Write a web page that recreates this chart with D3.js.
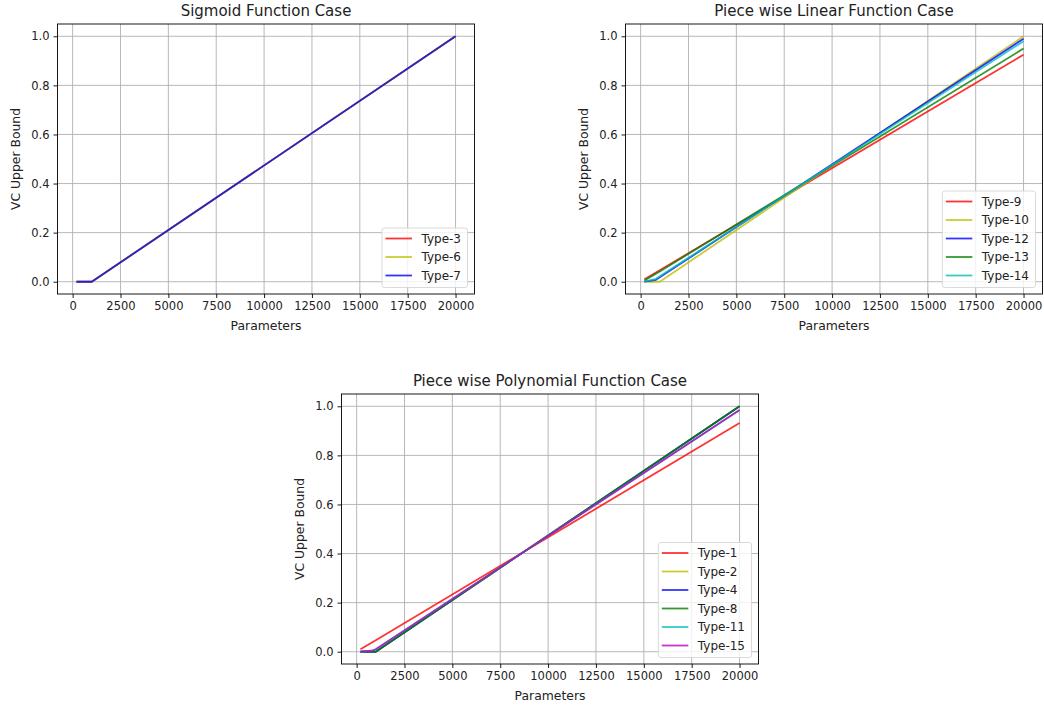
<!DOCTYPE html>
<html>
<head>
<meta charset="utf-8">
<script src="https://cdn.jsdelivr.net/npm/d3@7"></script>
<style>
  body { margin: 0; background: #fff; }
  svg { display: block; font-family: "DejaVu Sans", sans-serif; }
</style>
</head>
<body>
<div id="chart"></div>
<script>
// ---- data ----
const paramsX = [200, 800, 1000, 20000];

// Sigmoid function case
const sigType3 = [0, 0, 0, 1.0];
const sigType6 = [0, 0, 0, 1.0];
const sigType7 = [0, 0, 0, 1.0];

// Piece wise linear function case
const linType9  = [0.010, 0.038, 0.047, 0.925];
const linType10 = [0, 0, 0, 1.0];
const linType12 = [0, 0.008, 0.018, 0.990];
const linType13 = [0.005, 0.033, 0.042, 0.950];
const linType14 = [0, 0.012, 0.022, 0.980];

// Piece wise polynomial function case
const polyType1  = [0.010, 0.038, 0.047, 0.932];
const polyType2  = [0, 0, 0, 1.0];
const polyType4  = [0, 0, 0, 1.0];
const polyType8  = [0, 0, 0, 1.0];
const polyType11 = [0, 0.004, 0.010, 0.985];
const polyType15 = [0, 0.004, 0.010, 0.985];

const xTicks = [0, 2500, 5000, 7500, 10000, 12500, 15000, 17500, 20000];
const yTicks = [0.0, 0.2, 0.4, 0.6, 0.8, 1.0];

// matplotlib short colour codes
const mplColor = { r: "#ff0000", y: "#bfbf00", b: "#0000ff", g: "#008000", c: "#00bfbf", m: "#bf00bf" };

const panels = [
  { title: "Sigmoid Function Case", left: 57.5, top: 24,
    series: [["Type-3", sigType3, "r"], ["Type-6", sigType6, "y"], ["Type-7", sigType7, "b"]] },
  { title: "Piece wise Linear Function Case", left: 625.5, top: 24,
    series: [["Type-9", linType9, "r"], ["Type-10", linType10, "y"], ["Type-12", linType12, "b"],
             ["Type-13", linType13, "g"], ["Type-14", linType14, "c"]] },
  { title: "Piece wise Polynomial Function Case", left: 341.5, top: 394,
    series: [["Type-1", polyType1, "r"], ["Type-2", polyType2, "y"], ["Type-4", polyType4, "b"],
             ["Type-8", polyType8, "g"], ["Type-11", polyType11, "c"], ["Type-15", polyType15, "m"]] }
];

const W = 1044, H = 708;
const pw = 417, ph = 270;
const tickFs = 11.5, labelFs = 12.4, legFs = 12, titleFs = 15;
const ink = "#222";

const svg = d3.select("#chart").append("svg")
  .attr("width", W).attr("height", H);
svg.append("rect").attr("width", W).attr("height", H).attr("fill", "#fff");

// 5% padding on both sides like matplotlib autoscale
function padded(ext) {
  const m = (ext[1] - ext[0]) * 0.05;
  return [ext[0] - m, ext[1] + m];
}

function drawPanel(p) {
  const allY = p.series.flatMap(s => s[1]);
  const x = d3.scaleLinear().domain(padded(d3.extent(paramsX))).range([0, pw]);
  const y = d3.scaleLinear().domain(padded([Math.min(0, d3.min(allY)), d3.max(allY)])).range([ph, 0]);

  const g = svg.append("g").attr("transform", `translate(${p.left},${p.top})`);

  // grid
  g.append("g").selectAll("line").data(xTicks).join("line")
    .attr("x1", d => x(d)).attr("x2", d => x(d)).attr("y1", 0).attr("y2", ph)
    .attr("stroke", "#b0b0b0").attr("stroke-width", 0.9);
  g.append("g").selectAll("line").data(yTicks).join("line")
    .attr("y1", d => y(d)).attr("y2", d => y(d)).attr("x1", 0).attr("x2", pw)
    .attr("stroke", "#b0b0b0").attr("stroke-width", 0.9);

  // lines
  const line = d3.line().x((d, i) => x(paramsX[i])).y(d => y(d));
  g.append("g").selectAll("path").data(p.series).join("path")
    .attr("d", s => line(s[1]))
    .attr("fill", "none")
    .attr("stroke", s => mplColor[s[2]])
    .attr("stroke-opacity", 0.8)
    .attr("stroke-width", 1.8)
    .attr("stroke-linejoin", "round");

  // axes
  const xAxis = g.append("g").attr("transform", `translate(0,${ph})`)
    .call(d3.axisBottom(x).tickValues(xTicks).tickFormat(d3.format("d")).tickSizeOuter(0).tickSize(4).tickPadding(4));
  const yAxis = g.append("g")
    .call(d3.axisLeft(y).tickValues(yTicks).tickFormat(d3.format(".1f")).tickSizeOuter(0).tickSize(4).tickPadding(4));
  [xAxis, yAxis].forEach(a => {
    a.select(".domain").remove();
    a.selectAll("line").attr("stroke", "#000").attr("stroke-width", 0.9);
    a.selectAll("text").attr("font-size", tickFs).attr("fill", ink)
      .attr("font-family", "DejaVu Sans, sans-serif");
  });

  // frame
  g.append("rect").attr("width", pw).attr("height", ph)
    .attr("fill", "none").attr("stroke", "#000").attr("stroke-width", 0.9);

  // title & labels
  g.append("text").attr("x", pw / 2).attr("y", -8).attr("text-anchor", "middle")
    .attr("font-size", titleFs).attr("fill", ink).text(p.title);
  g.append("text").attr("x", pw / 2).attr("y", ph + 35.5).attr("text-anchor", "middle")
    .attr("font-size", labelFs).attr("fill", ink).text("Parameters");
  g.append("text").attr("transform", `translate(${-42.3},${ph / 2}) rotate(-90)`)
    .attr("dy", "0.35em").attr("text-anchor", "middle")
    .attr("font-size", labelFs).attr("fill", ink).text("VC Upper Bound");

  // legend (lower right)
  const n = p.series.length;
  const leg = g.append("g");
  const labels = leg.selectAll("text.lab").data(p.series).join("text")
    .attr("class", "lab").attr("font-size", legFs).attr("fill", ink)
    .attr("dy", "0.35em").text(s => s[0]);
  const tw = d3.max(labels.nodes(), el => el.getComputedTextLength());
  const bw = 39.5 + tw + 6.5;
  const bh = 10.5 + (n - 1) * 18.5 + 12;
  const bx = pw - 7 - bw, by = ph - 6.5 - bh;
  leg.insert("rect", ":first-child")
    .attr("x", bx).attr("y", by).attr("width", bw).attr("height", bh)
    .attr("rx", 2.5).attr("fill", "#fff").attr("fill-opacity", 0.8)
    .attr("stroke", "#d6d6d6").attr("stroke-width", 0.9);
  labels.attr("x", bx + 39.5).attr("y", (s, i) => by + 10.5 + i * 18.5);
  leg.selectAll("line").data(p.series).join("line")
    .attr("x1", bx + 3.5).attr("x2", bx + 30)
    .attr("y1", (s, i) => by + 10.5 + i * 18.5).attr("y2", (s, i) => by + 10.5 + i * 18.5)
    .attr("stroke", s => mplColor[s[2]]).attr("stroke-opacity", 0.8).attr("stroke-width", 1.8);
}

panels.forEach(drawPanel);
</script>
</body>
</html>
